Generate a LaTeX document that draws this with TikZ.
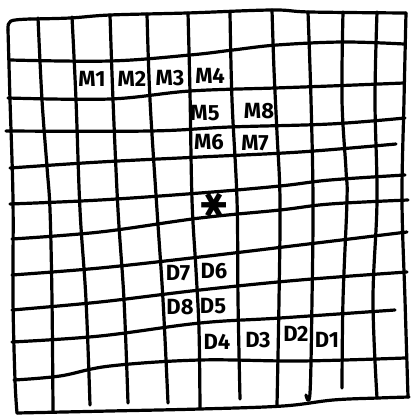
\documentclass[tikz,border=0pt]{standalone}
\usepackage{fontspec}
\setmainfont{Fira Sans}
\newfontfamily\symfont{DejaVu Sans}
\begin{document}
\begin{tikzpicture}[x=1pt,y=-1pt,
  gridline/.style={line width=3.2pt,line cap=round,line join=round},
  lab/.style={inner sep=0pt,font=\fontsize{22}{22}\selectfont\bfseries},
]
\useasboundingbox (0,0) rectangle (410,415);
% horizontal lines
\draw[gridline] plot[smooth,tension=0.6] coordinates {(30,19) (70,18) (110,15) (187,13) (272,10) (310,12) (406,13)};
\draw[gridline] (8,30) .. controls (8,20) .. (30,19);
\draw[gridline] plot[smooth,tension=0.6] coordinates {(10,60) (110,61) (190,55) (233,50) (277,45) (343,42) (404,44)};
\draw[gridline] plot[smooth,tension=0.6] coordinates {(8,98) (110,99) (190,91) (275,88) (330,86) (404,83)};
\draw[gridline] plot[smooth,tension=0.6] coordinates {(6,131) (150,131) (230,127) (330,124) (405,118)};
\draw[gridline] plot[smooth,tension=0.6] coordinates {(10,168) (100,162) (200,157) (300,152) (396,144)};
\draw[gridline] plot[smooth,tension=0.6] coordinates {(10,204) (100,200) (200,193) (280,186) (330,180) (405,175)};
\draw[gridline] plot[smooth,tension=0.6] coordinates {(12,239) (100,232) (200,218) (280,210) (330,204) (408,200)};
\draw[gridline] plot[smooth,tension=0.6] coordinates {(12,275) (100,268) (200,257) (300,245) (407,232)};
\draw[gridline] plot[smooth,tension=0.6] coordinates {(12,310) (100,302) (200,290) (300,280) (407,272)};
\draw[gridline] plot[smooth,tension=0.6] coordinates {(12,342) (100,336) (200,323) (280,318) (395,310)};
\draw[gridline] plot[smooth,tension=0.6] coordinates {(14,380) (60,376) (110,366) (200,360) (300,361) (405,358)};
\draw[gridline] plot[smooth,tension=0.6] coordinates {(17,413) (110,411) (200,409) (283,406) (333,400) (378,398) (409,397)};
% vertical lines
\draw[gridline] plot[smooth,tension=0.6] coordinates {(8,30) (10,100) (13,200) (13,300) (15,380) (17,413)};
\draw[gridline] plot[smooth,tension=0.6] coordinates {(38,18) (42,100) (47,167) (50,210) (52,300) (53,411)};
\draw[gridline] plot[smooth,tension=0.6] coordinates {(72,17) (76,100) (80,210) (86,300) (90,405)};
\draw[gridline] plot[smooth,tension=0.6] coordinates {(110,15) (113,100) (118,210) (124,300) (128,403)};
\draw[gridline] plot[smooth,tension=0.6] coordinates {(147,14) (150,100) (157,210) (163,300) (168,403)};
\draw[gridline] plot[smooth,tension=0.6] coordinates {(188,13) (190,93) (192,200) (196,270) (199,330) (200,408)};
\draw[gridline] plot[smooth,tension=0.6] coordinates {(230,12) (232,100) (237,200) (238,300) (240,399)};
\draw[gridline] plot[smooth,tension=0.6] coordinates {(272,10) (274,70) (277,133) (280,200) (279,300) (277,405)};
\draw[gridline] plot[smooth,tension=0.6] coordinates {(308,12) (311,100) (313,200) (312,300) (310,393) (306,395)};
\draw[gridline] plot[smooth,tension=0.6] coordinates {(343,12) (342,100) (346,170) (347,200) (343,300) (342,388)};
\draw[gridline] plot[smooth,tension=0.6] coordinates {(377,12) (375,100) (377,200) (373,300) (377,398)};
\draw[gridline] plot[smooth,tension=0.6] coordinates {(406,13) (404,100) (402,200) (405,300) (408,397)};
% labels
\node[lab] (m1) at (92,79) {M1};
\node[lab] (m2) at (132,79) {M2};
\node[lab] (m3) at (170,78) {M3};
\node[lab] (m4) at (210,76) {M4};
\node[lab] (m5) at (205,113) {M5};
\node[lab] (m8) at (259,111) {M8};
\node[lab] (m6) at (209,142) {M6};
\node[lab] (m7) at (255,143) {M7};
\node[inner sep=0pt,font=\symfont\fontsize{34}{34}\selectfont,rotate=90] (star) at (214,205) {✱};
\node[lab] (d7) at (178,273) {D7};
\node[lab] (d6) at (214,271) {D6};
\node[lab] (d8) at (180,307) {D8};
\node[lab] (d5) at (213,306) {D5};
\node[lab] (d4) at (217,342) {D4};
\node[lab] (d3) at (258,340) {D3};
\node[lab] (d2) at (296,334) {D2};
\node[lab] (d1) at (327,340) {D1};
\end{tikzpicture}
\end{document}
